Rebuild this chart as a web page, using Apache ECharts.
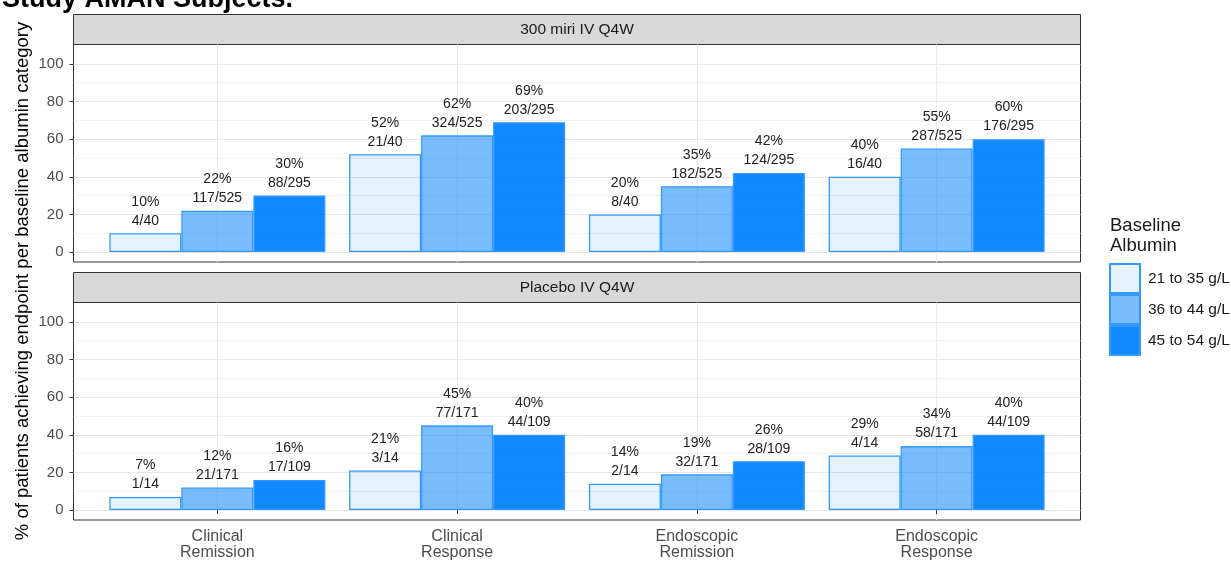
<!DOCTYPE html>
<html>
<head>
<meta charset="utf-8">
<script src="https://cdn.jsdelivr.net/npm/echarts@6/dist/echarts.min.js"></script>
<style>
  html, body { margin: 0; padding: 0; background: #ffffff; }
  #chart { width: 1231px; height: 561px; }
</style>
</head>
<body>
<div id="chart"></div>
<script>
// ---- data ----
const endpoints = ['Clinical\nRemission', 'Clinical\nResponse', 'Endoscopic\nRemission', 'Endoscopic\nResponse'];
const albuminGroups = ['21 to 35 g/L', '36 to 44 g/L', '45 to 54 g/L'];
const panelTitles = ['300 miri IV Q4W', 'Placebo IV Q4W'];
const yMajorTicks = [0, 20, 40, 60, 80, 100];
const yMinorTicks = [10, 30, 50, 70, 90];

// % of patients achieving each endpoint, one row per albumin group
const miriPct = [[10, 52, 20, 40], [22, 62, 35, 55], [30, 69, 42, 60]];
const miriResponders = [[4, 21, 8, 16], [117, 324, 182, 287], [88, 203, 124, 176]];
const miriGroupN = [40, 525, 295];

const placeboPct = [[7, 21, 14, 29], [12, 45, 19, 34], [16, 40, 26, 40]];
const placeboResponders = [[1, 3, 2, 4], [21, 77, 32, 58], [17, 44, 28, 44]];
const placeboGroupN = [14, 171, 109];

// ---- styling ----
const FONT = '"Liberation Sans", Arial, sans-serif';
const groupFill = ['rgba(0,128,255,0.10)', 'rgba(0,128,255,0.52)', 'rgba(0,128,255,0.93)'];
const groupBorder = '#3399ff';
const GRID_LEFT = 73.5, GRID_W = 1007;
const panelGrids = [
  { left: GRID_LEFT, top: 44.5, width: GRID_W, height: 217.5 },
  { left: GRID_LEFT, top: 302.5, width: GRID_W, height: 218 }
];
const Y_MIN = -5.25, Y_MAX = 110.25;

const panelData = [
  { pct: miriPct, num: miriResponders, den: miriGroupN },
  { pct: placeboPct, num: placeboResponders, den: placeboGroupN }
];

const grids = panelGrids.map(g => Object.assign({
  show: true, borderColor: '#333333', borderWidth: 1, backgroundColor: 'transparent'
}, g));

const xAxes = panelGrids.map((g, gi) => {
  const bottomPanel = gi === panelGrids.length - 1;
  return {
    type: 'value', gridIndex: gi, min: 0.4, max: 4.6,
    axisLine: { show: false },
    axisTick: {
      show: bottomPanel, customValues: [1, 2, 3, 4], length: 4,
      lineStyle: { color: '#333333', width: 1 }
    },
    axisLabel: {
      show: bottomPanel, customValues: [1, 2, 3, 4],
      formatter: v => endpoints[Math.round(v) - 1],
      margin: 9, fontSize: 16, lineHeight: 16, color: '#4d4d4d', fontFamily: FONT
    },
    splitLine: { show: true, lineStyle: { color: '#ebebeb', width: 1 } }
  };
});

const yAxes = [];
panelGrids.forEach((g, gi) => {
  // major breaks with labels and ticks
  yAxes.push({
    type: 'value', gridIndex: gi, min: Y_MIN, max: Y_MAX,
    axisLine: { show: false },
    axisTick: {
      show: true, customValues: yMajorTicks, length: 4,
      lineStyle: { color: '#333333', width: 1 }
    },
    axisLabel: {
      customValues: yMajorTicks, margin: 10, fontSize: 15,
      color: '#4d4d4d', fontFamily: FONT
    },
    splitLine: { show: true, lineStyle: { color: '#e6e6e6', width: 1 } }
  });
  // minor grid lines only
  yAxes.push({
    type: 'value', gridIndex: gi, min: Y_MIN, max: Y_MAX, position: 'left',
    axisLine: { show: false },
    axisTick: { show: false, customValues: yMinorTicks },
    axisLabel: { show: false, customValues: yMinorTicks },
    splitLine: { show: true, lineStyle: { color: '#f0f0f0', width: 1 } }
  });
});

const series = [];
panelData.forEach((pd, gi) => {
  albuminGroups.forEach((name, g) => {
    series.push({
      type: 'bar', name: name,
      xAxisIndex: gi, yAxisIndex: gi * 2,
      barWidth: 72, barGap: '0%',
      data: endpoints.map((_, j) => [j + 1, pd.pct[g][j]]),
      itemStyle: { color: groupFill[g], borderColor: groupBorder, borderWidth: 1.3 },
      emphasis: { disabled: true },
      label: {
        show: true, position: 'top', distance: 3,
        fontSize: 14, lineHeight: 19, color: '#222222', fontFamily: FONT,
        formatter: p => pd.pct[g][p.dataIndex] + '%\n' + pd.num[g][p.dataIndex] + '/' + pd.den[g]
      }
    });
  });
});

const graphics = [
  // heading, cropped at the top edge
  { type: 'text', x: 2, y: 0, style: {
      text: 'Study AMAN Subjects.', font: 'bold 27px ' + FONT, fill: '#000000',
      align: 'left', verticalAlign: 'middle' } },
  // y-axis title
  { type: 'text', x: 23, y: 281, rotation: Math.PI / 2, style: {
      text: '% of patients achieving endpoint per baseline albumin category',
      font: '18.5px ' + FONT, fill: '#000000', align: 'center', verticalAlign: 'middle' } },
  // legend title
  { type: 'text', x: 1110, y: 226, style: {
      text: 'Baseline', font: '18.5px ' + FONT, fill: '#1a1a1a', align: 'left', verticalAlign: 'middle' } },
  { type: 'text', x: 1110, y: 246, style: {
      text: 'Albumin', font: '18.5px ' + FONT, fill: '#1a1a1a', align: 'left', verticalAlign: 'middle' } }
];
// facet strips
const stripBoxes = [{ y: 14.5, h: 30 }, { y: 272.5, h: 30 }];
stripBoxes.forEach((s, i) => {
  graphics.push({ type: 'rect', shape: { x: GRID_LEFT, y: s.y, width: GRID_W, height: s.h },
    style: { fill: '#d9d9d9', stroke: '#333333', lineWidth: 1 } });
  graphics.push({ type: 'text', x: GRID_LEFT + GRID_W / 2, y: s.y + s.h / 2, style: {
    text: panelTitles[i], font: '15.5px ' + FONT, fill: '#1a1a1a', align: 'center', verticalAlign: 'middle' } });
});

const chart = echarts.init(document.getElementById('chart'), null, { renderer: 'canvas' });
chart.setOption({
  animation: false,
  backgroundColor: '#ffffff',
  grid: grids,
  xAxis: xAxes,
  yAxis: yAxes,
  legend: {
    data: albuminGroups, orient: 'vertical', left: 1109, top: 263, padding: 0,
    itemWidth: 30, itemHeight: 29, itemGap: 0, icon: 'rect', selectedMode: false,
    textStyle: { fontSize: 15.5, color: '#1a1a1a', fontFamily: FONT, padding: [0, 0, 0, 3] }
  },
  graphic: graphics,
  series: series
});
</script>
</body>
</html>
